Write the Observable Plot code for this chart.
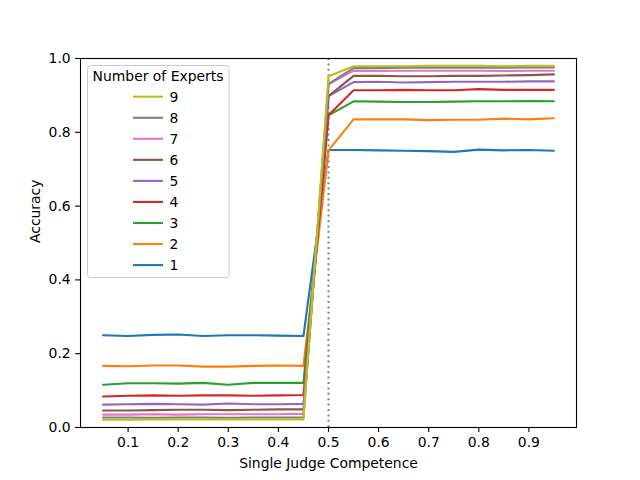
<!DOCTYPE html>
<html>
<head>
<meta charset="utf-8">
<script src="https://cdn.jsdelivr.net/npm/d3@7"></script>
<script src="https://cdn.jsdelivr.net/npm/@observablehq/plot@0.6"></script>
<style>
  body { margin: 0; background: white; }
  #chart { width: 640px; height: 480px; }
</style>
</head>
<body>
<div id="chart"></div>
<script>
const competence = [0.05, 0.10, 0.15, 0.20, 0.25, 0.30, 0.35, 0.40, 0.45, 0.50, 0.55, 0.60, 0.65, 0.70, 0.75, 0.80, 0.85, 0.90, 0.95];
const experts = [1, 2, 3, 4, 5, 6, 7, 8, 9];
const acc1 = [0.250, 0.248, 0.251, 0.252, 0.248, 0.250, 0.250, 0.249, 0.248, 0.752, 0.752, 0.751, 0.750, 0.749, 0.747, 0.753, 0.751, 0.752, 0.750];
const acc2 = [0.167, 0.166, 0.168, 0.168, 0.165, 0.165, 0.167, 0.168, 0.167, 0.751, 0.835, 0.835, 0.835, 0.833, 0.834, 0.834, 0.837, 0.835, 0.838];
const acc3 = [0.116, 0.120, 0.120, 0.119, 0.121, 0.116, 0.121, 0.121, 0.121, 0.846, 0.884, 0.883, 0.882, 0.882, 0.883, 0.884, 0.884, 0.885, 0.884];
const acc4 = [0.084, 0.086, 0.087, 0.086, 0.087, 0.087, 0.086, 0.087, 0.088, 0.846, 0.914, 0.914, 0.915, 0.914, 0.914, 0.917, 0.915, 0.915, 0.915];
const acc5 = [0.062, 0.063, 0.064, 0.063, 0.062, 0.065, 0.063, 0.063, 0.064, 0.898, 0.936, 0.937, 0.935, 0.936, 0.937, 0.937, 0.937, 0.938, 0.938];
const acc6 = [0.046, 0.046, 0.047, 0.048, 0.048, 0.047, 0.048, 0.049, 0.049, 0.898, 0.953, 0.953, 0.952, 0.952, 0.953, 0.953, 0.954, 0.955, 0.957];
const acc7 = [0.035, 0.035, 0.036, 0.035, 0.036, 0.036, 0.036, 0.036, 0.037, 0.930, 0.967, 0.966, 0.967, 0.967, 0.967, 0.967, 0.966, 0.967, 0.967];
const acc8 = [0.027, 0.027, 0.026, 0.027, 0.027, 0.026, 0.027, 0.027, 0.027, 0.931, 0.974, 0.974, 0.975, 0.975, 0.975, 0.975, 0.975, 0.976, 0.976];
const acc9 = [0.021, 0.021, 0.022, 0.022, 0.022, 0.022, 0.022, 0.022, 0.022, 0.952, 0.979, 0.979, 0.979, 0.980, 0.980, 0.980, 0.979, 0.980, 0.980];
const xTicks = [0.1, 0.2, 0.3, 0.4, 0.5, 0.6, 0.7, 0.8, 0.9];
const yTicks = [0.0, 0.2, 0.4, 0.6, 0.8, 1.0];
const threshold = [0.5];
const colors = ["#1f77b4", "#ff7f0e", "#2ca02c", "#d62728", "#9467bd", "#8c564b", "#e377c2", "#7f7f7f", "#bcbd22"];
const xLabel = "Single Judge Competence";
const yLabel = "Accuracy";
const legendTitle = "Number of Experts";

const series = [acc1, acc2, acc3, acc4, acc5, acc6, acc7, acc8, acc9];
const rows = [];
experts.forEach((n, i) => {
  competence.forEach((c, j) => rows.push({n, c, a: series[i][j]}));
});

const font = "DejaVu Sans, sans-serif";
const fs = 13.9;

const chart = Plot.plot({
  width: 640,
  height: 480,
  marginLeft: 80,
  marginRight: 64,
  marginTop: 58,
  marginBottom: 53,
  style: {fontFamily: font, fontSize: fs + "px", background: "white", color: "black"},
  x: {domain: [0.005, 0.995]},
  y: {domain: [0, 1]},
  color: {domain: experts, range: colors},
  marks: [
    Plot.ruleX(threshold, {stroke: "#808080", strokeWidth: 2, strokeDasharray: "2,3.4"}),
    Plot.line(rows, {x: "c", y: "a", z: "n", stroke: "n", strokeWidth: 2.1}),
    Plot.frame({stroke: "black", strokeWidth: 1.1}),
    Plot.axisX(xTicks, {tickSize: 4.9, tickPadding: 4.9, label: null, fontSize: fs, tickFormat: d => d.toFixed(1), strokeWidth: 1.1, strokeOpacity: 1}),
    Plot.axisY(yTicks, {tickSize: 4.9, tickPadding: 4.9, label: null, fontSize: fs, tickFormat: d => d.toFixed(1), strokeWidth: 1.1, strokeOpacity: 1}),
    Plot.text([xLabel], {frameAnchor: "bottom", dy: 36, fontSize: fs, lineAnchor: "middle"}),
    Plot.text([yLabel], {frameAnchor: "left", dx: -45, rotate: -90, fontSize: fs})
  ]
});
document.getElementById("chart").appendChild(chart);

// legend inside the plot (upper left)
const svg = d3.select(chart);
const lg = svg.append("g").attr("font-family", font).attr("font-size", fs);
lg.append("rect")
  .attr("x", 87.5).attr("y", 65.5).attr("width", 141.5).attr("height", 212)
  .attr("rx", 3).attr("fill", "white").attr("fill-opacity", 0.8)
  .attr("stroke", "#cccccc").attr("stroke-width", 1);
lg.append("text").attr("x", 158).attr("y", 76)
  .attr("text-anchor", "middle").attr("dominant-baseline", "central")
  .text(legendTitle);
experts.slice().reverse().forEach((n, i) => {
  const y = 96.7 + i * 21.05;
  lg.append("line").attr("x1", 133).attr("x2", 163).attr("y1", y).attr("y2", y)
    .attr("stroke", colors[n - 1]).attr("stroke-width", 2.1);
  lg.append("text").attr("x", 174).attr("y", y)
    .attr("dominant-baseline", "central").text(String(n));
});
</script>
</body>
</html>
